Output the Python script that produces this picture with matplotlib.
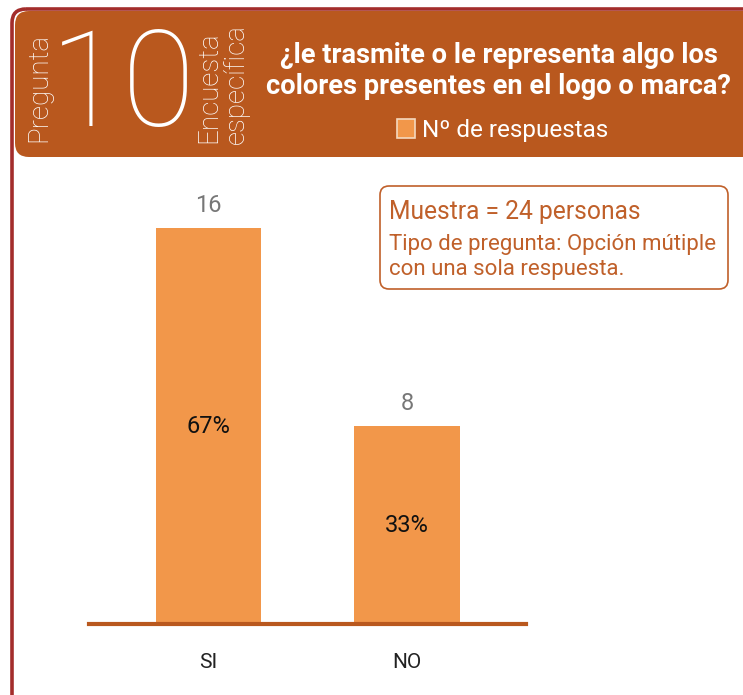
import matplotlib.pyplot as plt
from matplotlib.patches import FancyBboxPatch, Rectangle

# Data
categories = ['SI', 'NO']
respuestas = [16, 8]
porcentajes = ['67%', '33%']
muestra = 24

pregunta_num = '10'
titulo = '¿le trasmite o le representa algo los\ncolores presentes en el logo o marca?'
leyenda = 'Nº de respuestas'
nota_1 = 'Muestra = %d personas' % muestra
nota_2 = 'Tipo de pregunta: Opción mútiple\ncon una sola respuesta.'

# Colours
header_color = '#b9581e'
bar_color = '#f2974a'
frame_color = '#a32d2b'
note_color = '#c0602a'

plt.rcParams['font.family'] = ['Roboto', 'DejaVu Sans']

W, H = 743, 695
fig = plt.figure(figsize=(W / 100, H / 100), dpi=100)

# Overlay in pixel coordinates for the decoration
bg = fig.add_axes([0, 0, 1, 1])
bg.set_xlim(0, W)
bg.set_ylim(H, 0)
bg.axis('off')

frame = FancyBboxPatch((12, 9), 800, 720, boxstyle='round,pad=0,rounding_size=14',
                       facecolor='none', edgecolor=frame_color, linewidth=2.6)
bg.add_patch(frame)
header = FancyBboxPatch((15, 11), 790, 146, boxstyle='round,pad=0,rounding_size=14',
                        facecolor=header_color, edgecolor='none')
bg.add_patch(header)

bg.text(39, 88, 'Pregunta', rotation=90, color='white', fontsize=20,
        fontweight='light', ha='center', va='center')
bg.text(123, 89, pregunta_num, color='white', fontsize=96, fontweight='light',
        ha='center', va='center')
bg.text(209, 87, 'Encuesta', rotation=90, color='white', fontsize=20,
        fontweight='light', ha='center', va='center')
bg.text(236, 84, 'específica', rotation=90, color='white', fontsize=20,
        fontweight='light', ha='center', va='center')

bg.text(499, 71, titulo, color='white', fontsize=19.6, fontweight='bold',
        ha='center', va='center', linespacing=1.15)
bg.add_patch(Rectangle((397, 119), 18, 19, facecolor=bar_color, edgecolor='#f5d9bf',
                       linewidth=1.2))
bg.text(422, 130, leyenda, color='white', fontsize=17.5, ha='left', va='center')

note = FancyBboxPatch((380, 186), 348, 103, boxstyle='round,pad=0,rounding_size=9',
                      facecolor='white', edgecolor=note_color, linewidth=1.2)
bg.add_patch(note)
bg.text(389, 212, nota_1, color=note_color, fontsize=17.7, ha='left', va='center')
bg.text(389, 257, nota_2, color=note_color, fontsize=16, ha='left', va='center',
        linespacing=1.2)

# Bar chart
ax = fig.add_axes([89.4 / W, (H - 624) / H, 436.7 / W, 445.5 / H])
ax.patch.set_alpha(0)
x = range(len(categories))
ax.bar(x, respuestas, width=0.53, color=bar_color, zorder=2)
ax.set_xlim(-0.6, 1.6)
ax.set_ylim(0, 18)
for s in ['top', 'right', 'left']:
    ax.spines[s].set_visible(False)
ax.spines['bottom'].set_color(header_color)
ax.spines['bottom'].set_linewidth(3)
ax.spines['bottom'].set_zorder(3)
ax.set_yticks([])
ax.set_xticks(list(x))
ax.set_xticklabels(categories, fontsize=15, color='#222222')
ax.tick_params(axis='x', length=0, pad=21)

for i, v in enumerate(respuestas):
    ax.annotate(str(v), (i, v), xytext=(0, 8), textcoords='offset points',
                ha='center', va='bottom', fontsize=17, color='#777777')
    ax.text(i, v / 2, porcentajes[i], ha='center', va='center',
            fontsize=17, color='#111111')

plt.savefig('out.png', dpi=100)
plt.close()
